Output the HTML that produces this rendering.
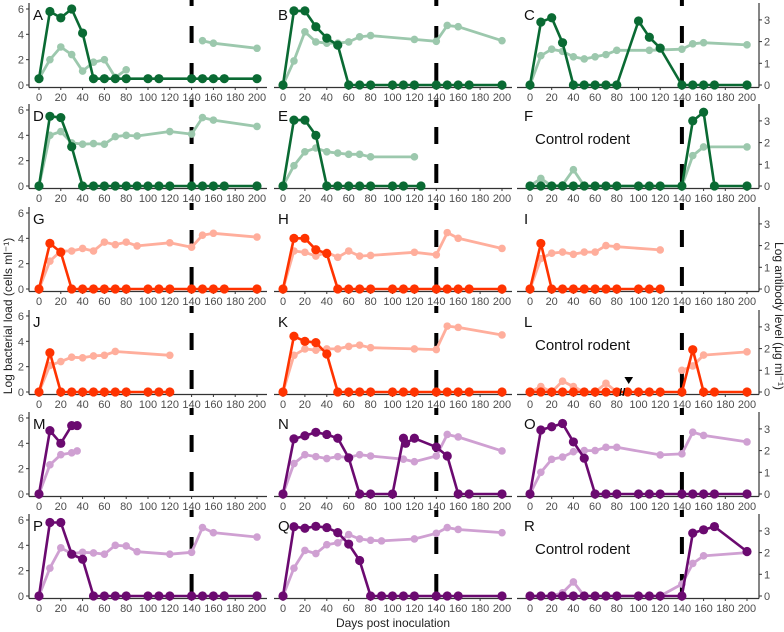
<!DOCTYPE html>
<html><head><meta charset="utf-8"><style>
html,body{margin:0;padding:0;background:#fff;}
svg{display:block;font-family:"Liberation Sans",sans-serif;}
</style></head><body>
<svg id="chart" width="784" height="632" viewBox="0 0 784 632" xmlns="http://www.w3.org/2000/svg"></svg>
<script>
const DAYS=[0,10,20,30,40,50,60,70,80,100,110,120,140,150,160,170,200];
const LDAYS=[0,10,20,30,40,50,60,70,80,90,120,140,150,160,200];
const XTICKS=[0,20,40,60,80,100,120,140,160,180,200];
const LEFT_TICKS=[0,2,4,6];
const RIGHT_TICKS=[0,1,2,3];
const LETTERS=["A","B","C","D","E","F","G","H","I","J","K","L","M","N","O","P","Q","R"];

const A_dd=[0,10,20,30,40,50,60,70,80,100,110,140,150,160,170,200];
const A_dv=[0.5,5.8,5.3,6.0,4.1,0.5,0.5,0.5,0.5,0.5,0.5,0.5,0.5,0.5,0.5,0.5];
const A_ld=[0,10,20,30,40,50,60,70,80,null,150,160,200];
const A_lv=[0.5,2.0,3.0,2.4,1.1,1.8,2.0,0.6,1.2,null,3.5,3.3,2.9];
const B_dd=DAYS;
const B_dv=[0,5.85,5.85,4.6,3.7,3.15,0,0,0,0,0,0,0,0,0,0,0];
const B_ld=[0,10,20,30,40,50,60,70,80,120,140,150,160,200];
const B_lv=[0,1.9,4.2,3.4,3.3,3.3,3.4,3.8,3.9,3.6,3.45,4.7,4.6,3.5];
const C_dd=DAYS;
const C_dv=[0,2.9,3.1,1.95,0,0,0,0,0,2.95,2.2,1.7,0,0,0,0,0];
const C_ld=[0,10,20,30,40,50,60,70,80,110,140,150,160,200];
const C_lv=[0,1.35,1.65,1.55,1.3,1.2,1.3,1.4,1.6,1.6,1.65,1.9,1.95,1.85];
const D_dd=[0,10,20,30,40,50,60,70,80,90,100,110,120,140,150,160,170,200];
const D_dv=[0,5.5,5.4,3.1,0,0,0,0,0,0,0,0,0,0,0,0,0,0];
const D_ld=LDAYS;
const D_lv=[0,4.0,4.3,3.4,3.3,3.35,3.3,3.9,4.0,3.95,4.3,4.1,5.4,5.2,4.7];
const E_dd=[0,10,20,30,40,50,60,70,80,100,110,126];
const E_dv=[0,5.2,5.2,4.0,0,0,0,0,0,0,0,0];
const E_ld=[0,10,20,30,40,50,60,70,80,120];
const E_lv=[0,1.6,2.7,3.0,2.7,2.6,2.5,2.5,2.3,2.3];
const F_dd=DAYS;
const F_dv=[0,0,0,0,0,0,0,0,0,0,0,0,0,3.0,3.4,0,0];
const F_ld=[0,10,20,30,40,50,140,150,160,200];
const F_lv=[0,0.35,0,0.05,0.75,0,0,1.4,1.8,1.8];
const G_dd=DAYS;
const G_dv=[0,3.6,2.9,0,0,0,0,0,0,0,0,0,0,0,0,0,0];
const G_ld=LDAYS;
const G_lv=[0,2.2,3.0,3.0,3.2,3.0,3.7,3.5,3.7,3.4,3.65,3.3,4.25,4.4,4.1];
const H_dd=DAYS;
const H_dv=[0,4.0,4.0,3.1,2.8,0,0,0,0,0,0,0,0,0,0,0,0];
const H_ld=[0,10,20,30,40,50,60,70,80,120,140,150,160,200];
const H_lv=[0,3.0,2.9,2.6,2.9,2.5,3.0,2.6,2.65,2.9,2.7,4.45,4.0,3.2];
const I_dd=[0,10,20,30,40,50,60,70,80,100,110,120];
const I_dv=[0,2.1,0,0,0,0,0,0,0,0,0,0];
const I_ld=[0,10,20,30,40,50,60,70,80,120];
const I_lv=[0,1.4,1.65,1.7,1.6,1.7,1.7,2.0,1.95,1.8];
const J_dd=[0,10,20,30,40,50,60,70,80,100,110,120];
const J_dv=[0,3.1,0,0,0,0,0,0,0,0,0,0];
const J_ld=[0,10,20,30,40,50,60,70,120];
const J_lv=[0,2.1,2.4,2.75,2.7,2.85,2.9,3.2,2.9];
const K_dd=DAYS;
const K_dv=[0,4.4,4.0,3.9,3.0,0,0,0,0,0,0,0,0,0,0,0,0];
const K_ld=[0,10,20,30,40,50,60,70,80,120,140,150,160,200];
const K_lv=[0,2.9,3.4,3.3,3.4,3.4,3.6,3.7,3.5,3.4,3.35,5.2,5.1,4.5];
const L_dd=[0,10,20,30,40,50,60,70,80,90,100,110,120,140,150,160,170,200];
const L_dv=[0,0,0,0,0,0,0,0,0,0,0,0,0,0,1.95,0,0,0];
const L_ld=[0,10,20,30,40,50,60,70,80,null,140,150,160,200];
const L_lv=[0,0.25,0,0.5,0.25,0,0,0.4,0,null,1.0,1.2,1.7,1.85];
const M_dd=[0,10,20,30,35];
const M_dv=[0,5.0,4.0,5.4,5.4];
const M_ld=[0,10,20,30,35];
const M_lv=[0,2.3,3.1,3.25,3.4];
const N_dd=[0,10,20,30,40,50,60,70,80,100,110,112,120,140,150,160,170,200];
const N_dv=[0,4.35,4.6,4.87,4.7,4.4,2.85,0,0,0,4.4,4.0,4.4,3.7,3.0,0,0,0];
const N_ld=[0,10,20,30,40,50,60,70,80,110,120,140,150,160,200];
const N_lv=[0,2.4,3.1,2.95,2.8,2.95,2.9,3.1,3.0,2.75,2.55,3.0,4.7,4.5,3.4];
const O_dd=DAYS;
const O_dv=[0,2.95,3.1,3.25,2.4,1.65,0,0,0,0,0,0,0,0,0,0,0];
const O_ld=[0,10,20,30,40,50,60,70,80,120,140,150,160,200];
const O_lv=[0,1.0,1.6,1.7,1.95,2.0,2.0,2.15,2.15,1.8,1.85,2.85,2.7,2.4];
const P_dd=DAYS;
const P_dv=[0,5.8,5.8,3.3,2.9,0,0,0,0,0,0,0,0,0,0,0,0];
const P_ld=LDAYS;
const P_lv=[0,2.2,3.8,3.35,3.45,3.4,3.3,4.0,3.95,3.5,3.3,3.45,5.4,5.0,4.65];
const Q_dd=[0,10,20,30,40,50,60,70,80,90,100,110,120,140,150,160,200];
const Q_dv=[0,5.47,5.35,5.5,5.4,5.0,4.1,2.8,0,0,0,0,0,0,0,0,0];
const Q_ld=LDAYS;
const Q_lv=[0,2.2,3.6,3.35,4.05,4.2,4.85,4.5,4.4,4.35,4.5,4.95,5.4,5.25,5.0];
const R_dd=DAYS;
const R_dv=[0,0,0,0,0,0,0,0,0,0,0,0,0,2.9,3.05,3.2,2.05];
const R_ld=[0,10,20,30,40,50,60,70,80,100,110,120,140,150,160,200];
const R_lv=[0,0,0,0.15,0.65,0,0,0,0,0,0,0,0.55,1.5,1.85,2.0];

const SERIES=[[A_dd,A_dv,A_ld,A_lv],[B_dd,B_dv,B_ld,B_lv],[C_dd,C_dv,C_ld,C_lv],
[D_dd,D_dv,D_ld,D_lv],[E_dd,E_dv,E_ld,E_lv],[F_dd,F_dv,F_ld,F_lv],
[G_dd,G_dv,G_ld,G_lv],[H_dd,H_dv,H_ld,H_lv],[I_dd,I_dv,I_ld,I_lv],
[J_dd,J_dv,J_ld,J_lv],[K_dd,K_dv,K_ld,K_lv],[L_dd,L_dv,L_ld,L_lv],
[M_dd,M_dv,M_ld,M_lv],[N_dd,N_dv,N_ld,N_lv],[O_dd,O_dv,O_ld,O_lv],
[P_dd,P_dv,P_ld,P_lv],[Q_dd,Q_dv,Q_ld,Q_lv],[R_dd,R_dv,R_ld,R_lv]];
const CONTROL=["F","L","R"];

const colX0=[39,283,530], colK=[1.09,1.095,1.085];
const rowBase=[85,186,289,392,494,596];
const axL=[29,274,517], axR=[267,512,759];
const LU=12.67, RU=21.7;
const dark=["#0a6a33","#ff3300","#6b0a70"];
const light=["#9cc8ad","#ffae9c","#cfa0d2"];
const NS="http://www.w3.org/2000/svg";
const svg=document.getElementById("chart");
function mk(tag,at,parent){const e=document.createElementNS(NS,tag);for(const k in at)e.setAttribute(k,at[k]);(parent||svg).appendChild(e);return e;}

for(let p=0;p<18;p++){
  const r=Math.floor(p/3), c=p%3, base=rowBase[r];
  const unit=c===2?RU:LU;
  const xs=d=>colX0[c]+d*colK[c];
  const ys=v=>base-v*unit;
  const g=mk("g",{});
  
  
  const xa=mk("line",{x1:axL[c],x2:axR[c],y1:base+2.5,y2:base+2.5,stroke:"#333","stroke-width":1.2},g);
  
  
  XTICKS.forEach(t=>{
    mk("line",{x1:xs(t),x2:xs(t),y1:base+2.5,y2:base+5,stroke:"#333","stroke-width":1},g);
    const tx=mk("text",{x:xs(t),y:base+16,"font-size":11,fill:"#4d4d4d","text-anchor":"middle"},g);
    tx.textContent=t;
    
    
  });
  if(c===0){
    const ya=mk("line",{x1:29,x2:29,y1:base-82,y2:base+2.5,stroke:"#333","stroke-width":1.2},g);
    
    
    LEFT_TICKS.forEach(t=>{
      mk("line",{x1:26,x2:29,y1:ys(t),y2:ys(t),stroke:"#333","stroke-width":1},g);
      const tx=mk("text",{x:24,y:ys(t)+4,"font-size":11,fill:"#4d4d4d","text-anchor":"end"},g);
      tx.textContent=t;
      
      
    });
  }
  if(c===2){
    const ya=mk("line",{x1:759,x2:759,y1:base-82,y2:base+2.5,stroke:"#333","stroke-width":1.2},g);
    
    
    RIGHT_TICKS.forEach(t=>{
      mk("line",{x1:759,x2:762,y1:ys(t),y2:ys(t),stroke:"#333","stroke-width":1},g);
      const tx=mk("text",{x:764,y:ys(t)+4,"font-size":11,fill:"#4d4d4d","text-anchor":"start"},g);
      tx.textContent=t;
      
      
    });
  }
  const dx=xs(140);
  [[3,22],[42,59],[79,86]].forEach(s=>{
    const dl=mk("rect",{x:dx-2,y:base-s[1],width:4,height:s[1]-s[0],fill:"#000"},g);
    
    
  });
  const [dd,dv,ld,lv]=SERIES[p];
  let path="",pen=false;
  ld.forEach((d,i)=>{if(d===null||lv[i]===null){pen=false;return;}path+=(pen?"L":"M")+xs(d).toFixed(1)+" "+ys(lv[i]).toFixed(1);pen=true;});
  const lp=mk("path",{d:path,fill:"none",stroke:light[Math.floor(r/2)],"stroke-width":2.8,"stroke-linejoin":"round"},g);
  
  
  ld.forEach((d,i)=>{if(d===null||lv[i]===null)return;
    const pt=mk("circle",{cx:xs(d),cy:ys(lv[i]),r:3.8,fill:light[Math.floor(r/2)]},g);
    
    
  });
  path="";
  dd.forEach((d,i)=>{path+=(i?"L":"M")+xs(d).toFixed(1)+" "+ys(dv[i]).toFixed(1);});
  const dp=mk("path",{d:path,fill:"none",stroke:dark[Math.floor(r/2)],"stroke-width":2.6,"stroke-linejoin":"round"},g);
  
  
  dd.forEach((d,i)=>{
    const pt=mk("circle",{cx:xs(d),cy:ys(dv[i]),r:4.6,fill:dark[Math.floor(r/2)]},g);
    
    
  });
  const lt=mk("text",{x:[33,278,524][c],y:base-65,"font-size":15,fill:"#111"},g);
  lt.textContent=LETTERS[p];
  
  
  if(CONTROL.includes(LETTERS[p])){
    const ct=mk("text",{x:535,y:base-42,"font-size":15,fill:"#111"},g);
    ct.textContent="Control rodent";
    
    
  }
  if(LETTERS[p]==="L"){
    const bk=mk("text",{x:xs(85),y:base+4,"font-size":11,fill:"#000","text-anchor":"middle","font-weight":"bold"},g);
    bk.textContent="//";
    
    
    const tri=mk("path",{d:`M${xs(87)} ${base-15}L${xs(95)} ${base-15}L${xs(91)} ${base-8}Z`,fill:"#000"},g);
    
    
  }
}
const yl=mk("text",{x:0,y:0,"font-size":12,fill:"#222","text-anchor":"middle",transform:"translate(12,316) rotate(-90)"});
yl.textContent="Log bacterial load (cells ml\u207B\u00B9)";


const yr=mk("text",{x:0,y:0,"font-size":12,fill:"#222","text-anchor":"middle",transform:"translate(775,316) rotate(90)"});
yr.textContent="Log antibody level (\u03BCg ml\u207B\u00B9)";


const xl=mk("text",{x:393,y:627,"font-size":12,fill:"#222","text-anchor":"middle"});
xl.textContent="Days post inoculation";


</script>
</body></html>
